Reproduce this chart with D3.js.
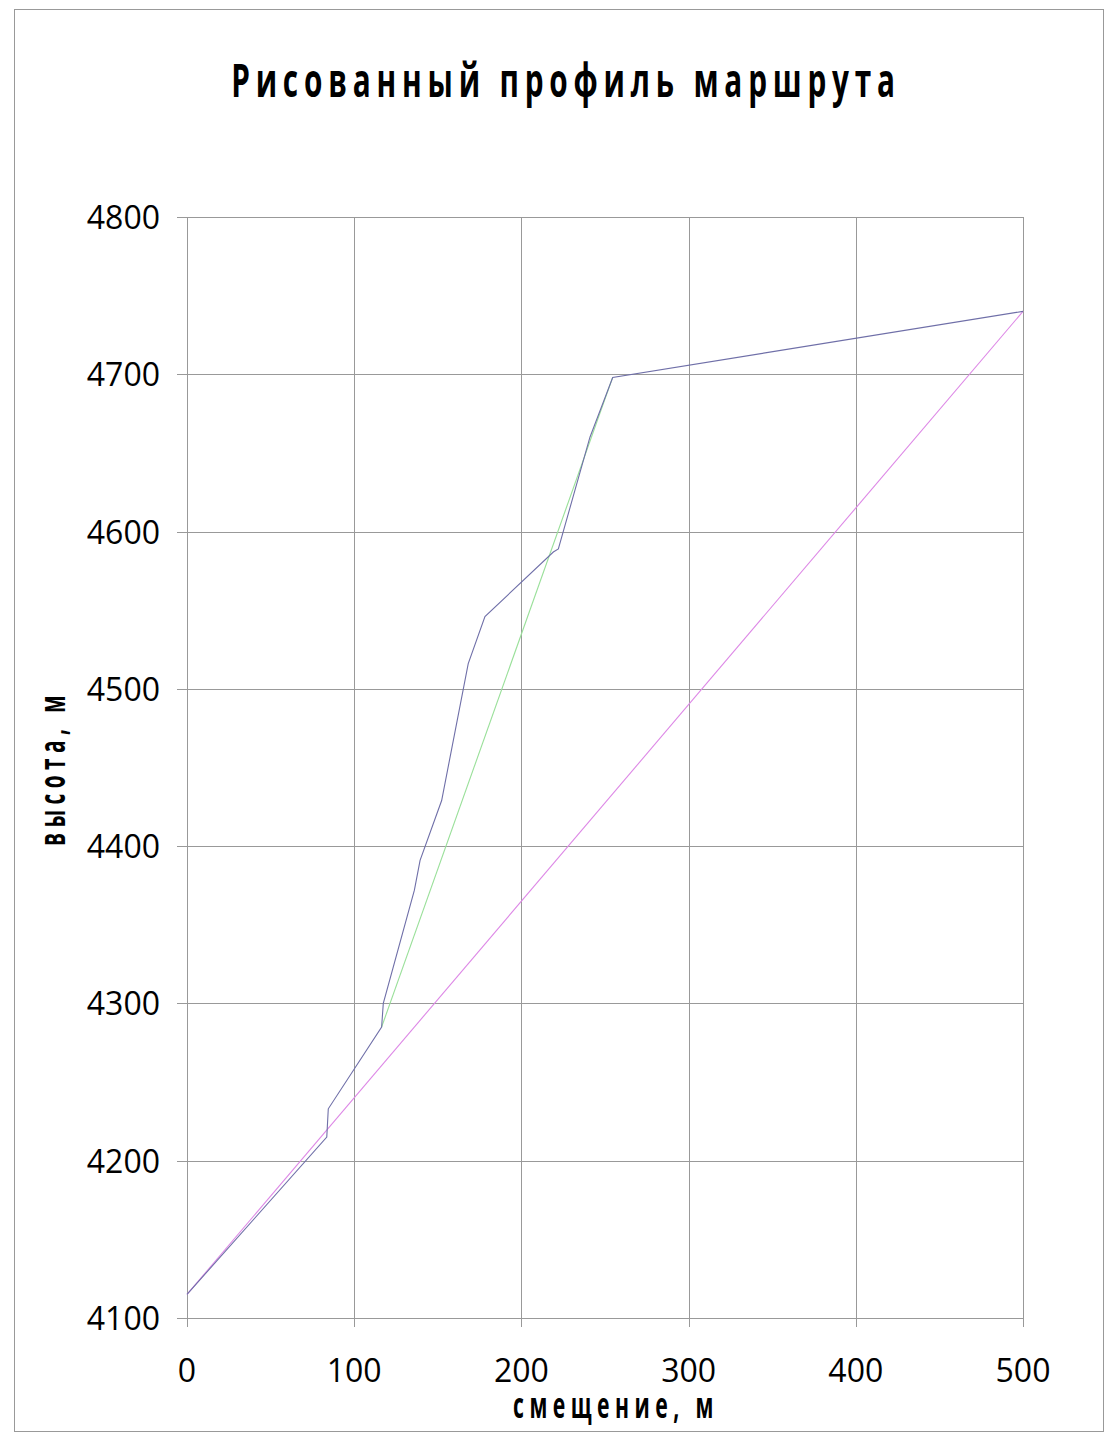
<!DOCTYPE html>
<html><head><meta charset="utf-8">
<script src="https://cdn.jsdelivr.net/npm/d3@7"></script>
<style>
body{margin:0;background:#fff;}
svg{display:block;}
</style></head>
<body>
<script>
const titleText = "Рисованный профиль маршрута";
const xLabel = "смещение, м";
const yLabel = "высота, м";
const xTicks = [0,100,200,300,400,500];
const yTicks = [4100,4200,4300,4400,4500,4600,4700,4800];
// drawn route profile (purple)
const profileX = [0, 83.6, 84.5, 116.4, 117.4, 136, 139.4, 152.3, 168.2, 178.2, 219.1, 222.1, 241, 254.6, 500];
const profileY = [4115, 4215, 4233, 4285, 4300, 4372, 4391, 4429, 4516, 4546, 4587, 4589, 4660, 4698, 4740];
// straight segment (green)
const greenX = [116.4, 254.6];
const greenY = [4285, 4698];
// overall straight line (pink)
const pinkX = [0, 500];
const pinkY = [4115, 4740];

const W = 1105, H = 1443;
const svg = d3.select("body").append("svg").attr("width", W).attr("height", H);
svg.append("rect").attr("x",14.5).attr("y",9.5).attr("width",1089).attr("height",1422)
  .attr("fill","#fff").attr("stroke","#999").attr("stroke-width",1);

const x = d3.scaleLinear().domain([0,500]).range([187,1023]);
const y = d3.scaleLinear().domain([4100,4800]).range([1318,217]);

// grid
const g = svg.append("g");
g.selectAll(".gx").data(xTicks).join("line")
  .attr("x1",d=>Math.round(x(d))+0.5).attr("x2",d=>Math.round(x(d))+0.5)
  .attr("y1",y(4800)).attr("y2",y(4100)+9)
  .attr("stroke","#999").attr("stroke-width",1);
g.selectAll(".gy").data(yTicks).join("line")
  .attr("y1",d=>Math.round(y(d))+0.5).attr("y2",d=>Math.round(y(d))+0.5)
  .attr("x1",x(0)-10).attr("x2",x(500))
  .attr("stroke","#999").attr("stroke-width",1);

// tick labels
svg.selectAll(".xt").data(xTicks).join("text")
  .attr("x",d=>x(d)).attr("y",1382).attr("text-anchor","middle")
  .attr("font-family","'Open Sans', sans-serif").attr("font-size",32).attr("fill","#000")
  .text(d=>d);
svg.selectAll(".yt").data(yTicks).join("text")
  .attr("x",160).attr("y",d=>y(d)+12).attr("text-anchor","end")
  .attr("font-family","'Open Sans', sans-serif").attr("font-size",32).attr("fill","#000")
  .text(d=>d);

const line = d3.line().x(d=>x(d[0])).y(d=>y(d[1]));
const series = [
  {xs: pinkX, ys: pinkY, color: "#dd88e6"},
  {xs: greenX, ys: greenY, color: "#99e099"},
  {xs: profileX, ys: profileY, color: "#6f6fa8"}
];
series.forEach(s => {
  svg.append("path").datum(s.xs.map((v,i)=>[v,s.ys[i]]))
    .attr("d", line).attr("fill","none").attr("stroke", s.color).attr("stroke-width",1.1);
});

// condensed bold titles: draw with Open Sans bold, squeeze horizontally to the reference width
function condensed(txt, size, spacing, cx, cy, targetW, rotate) {
  const gg = svg.append("g");
  const t = gg.append("text").attr("x",0).attr("y",0).attr("text-anchor","middle")
    .attr("font-family","'Open Sans', sans-serif").attr("font-weight","bold")
    .attr("font-size",size).attr("letter-spacing",spacing).text(txt);
  const w = t.node().getComputedTextLength();
  const k = targetW / w;
  gg.attr("transform", `translate(${cx},${cy})` + (rotate ? " rotate(-90)" : "") + ` scale(${k},1)`);
}
condensed(titleText, 46, 9, 566, 97, 670, false);
condensed(xLabel, 35, 9, 616, 1418, 206, false);
condensed(yLabel, 35, 9, 65, 768, 156, true);
</script>
</body></html>
